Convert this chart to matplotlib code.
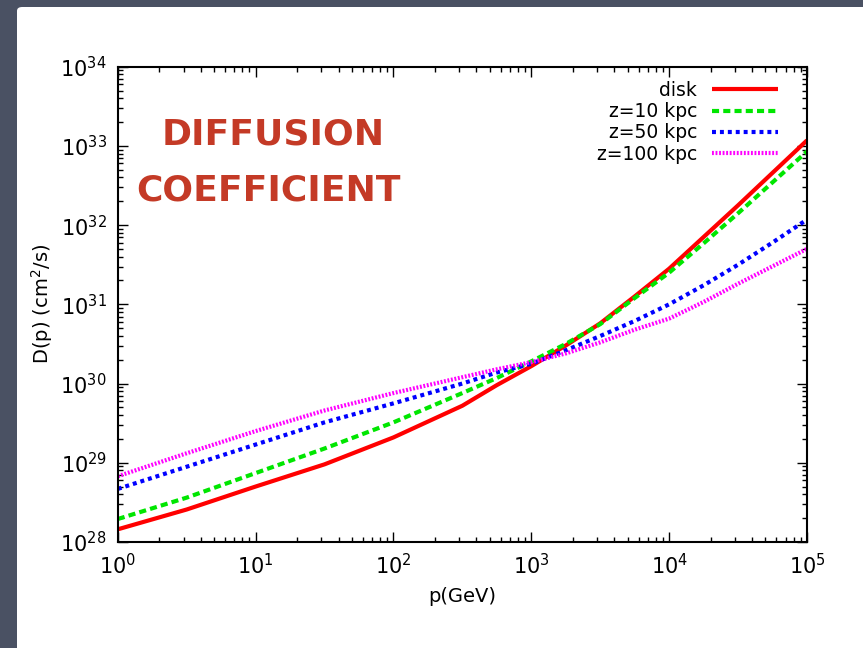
import matplotlib
matplotlib.use('Agg')
import matplotlib.pyplot as plt
from matplotlib.patches import FancyBboxPatch
import numpy as np

plt.rcParams['font.family'] = ['DejaVu Sans']
plt.rcParams['mathtext.default'] = 'regular'

# momentum grid (GeV) and log10 of D(p)
p = [1, 3.16, 10, 31.6, 100, 316, 562, 1000, 1778, 3162, 5623, 1e4, 17783, 31623, 56234, 1e5]
logD_disk = [28.16, 28.41, 28.70, 28.98, 29.32, 29.72, 29.98, 30.22, 30.48, 30.76, 31.10, 31.45, 31.85, 32.25, 32.66, 33.07]
logD_z10 = [28.29, 28.56, 28.87, 29.18, 29.51, 29.88, 30.07, 30.28, 30.50, 30.75, 31.08, 31.40, 31.77, 32.15, 32.54, 32.93]
logD_z50 = [28.67, 28.95, 29.23, 29.51, 29.75, 30.00, 30.14, 30.25, 30.42, 30.60, 30.79, 31.00, 31.24, 31.50, 31.78, 32.07]
logD_z100 = [28.83, 29.12, 29.40, 29.66, 29.88, 30.08, 30.18, 30.27, 30.38, 30.52, 30.68, 30.82, 31.03, 31.26, 31.48, 31.70]

fig = plt.figure(figsize=(8.63, 6.48), dpi=100)
fig.patch.set_facecolor('#4a5163')
panel = FancyBboxPatch((17/863, -0.05), 1.0, (648 - 7)/648 + 0.05, boxstyle='round,pad=0,rounding_size=0.006',
                       transform=fig.transFigure, facecolor='white', edgecolor='none', zorder=-10)
fig.add_artist(panel)

ax = fig.add_axes([0.1365, 0.1636, 0.7986, 0.7335])
ax.set_zorder(1)
ax.set_xscale('log')
ax.set_yscale('log')
ax.set_xlim(1, 1e5)
ax.set_ylim(1e28, 1e34)

ax.plot(p, 10**np.array(logD_disk), color='#ff0000', lw=3, label='disk', solid_capstyle='butt')
ax.plot(p, 10**np.array(logD_z10), color='#00e600', lw=3, dashes=(1.7, 1.0), label='z=10 kpc')
ax.plot(p, 10**np.array(logD_z50), color='#0000ff', lw=3, dashes=(0.95, 0.95), label='z=50 kpc')
ax.plot(p, 10**np.array(logD_z100), color='#ff00ff', lw=3, dashes=(0.45, 0.4), label='z=100 kpc')

for s in ax.spines.values():
    s.set_linewidth(1.5)
ax.tick_params(which='both', direction='in', top=True, right=True, width=1)
ax.tick_params(which='major', length=7, labelsize=15, pad=8)
ax.tick_params(which='minor', length=3.5)

ax.set_xlabel('p(GeV)', fontsize=14, labelpad=6)
ax.set_ylabel('D(p) (cm$^2$/s)', fontsize=14, labelpad=4)

ax.legend(loc='upper right', bbox_to_anchor=(0.9015, 0.875), bbox_transform=fig.transFigure,
          frameon=False, markerfirst=False, fontsize=13.5, handlelength=3.5,
          handletextpad=0.8, labelspacing=0.12, borderpad=0, borderaxespad=0)

ax.text(0.225, 0.858, 'DIFFUSION', transform=ax.transAxes, ha='center', va='center',
        fontsize=26, fontweight='bold', color='#c43a26')
ax.text(0.218, 0.74, 'COEFFICIENT', transform=ax.transAxes, ha='center', va='center',
        fontsize=26, fontweight='bold', color='#c43a26')

fig.savefig('out.png', dpi=100, facecolor=fig.get_facecolor())
